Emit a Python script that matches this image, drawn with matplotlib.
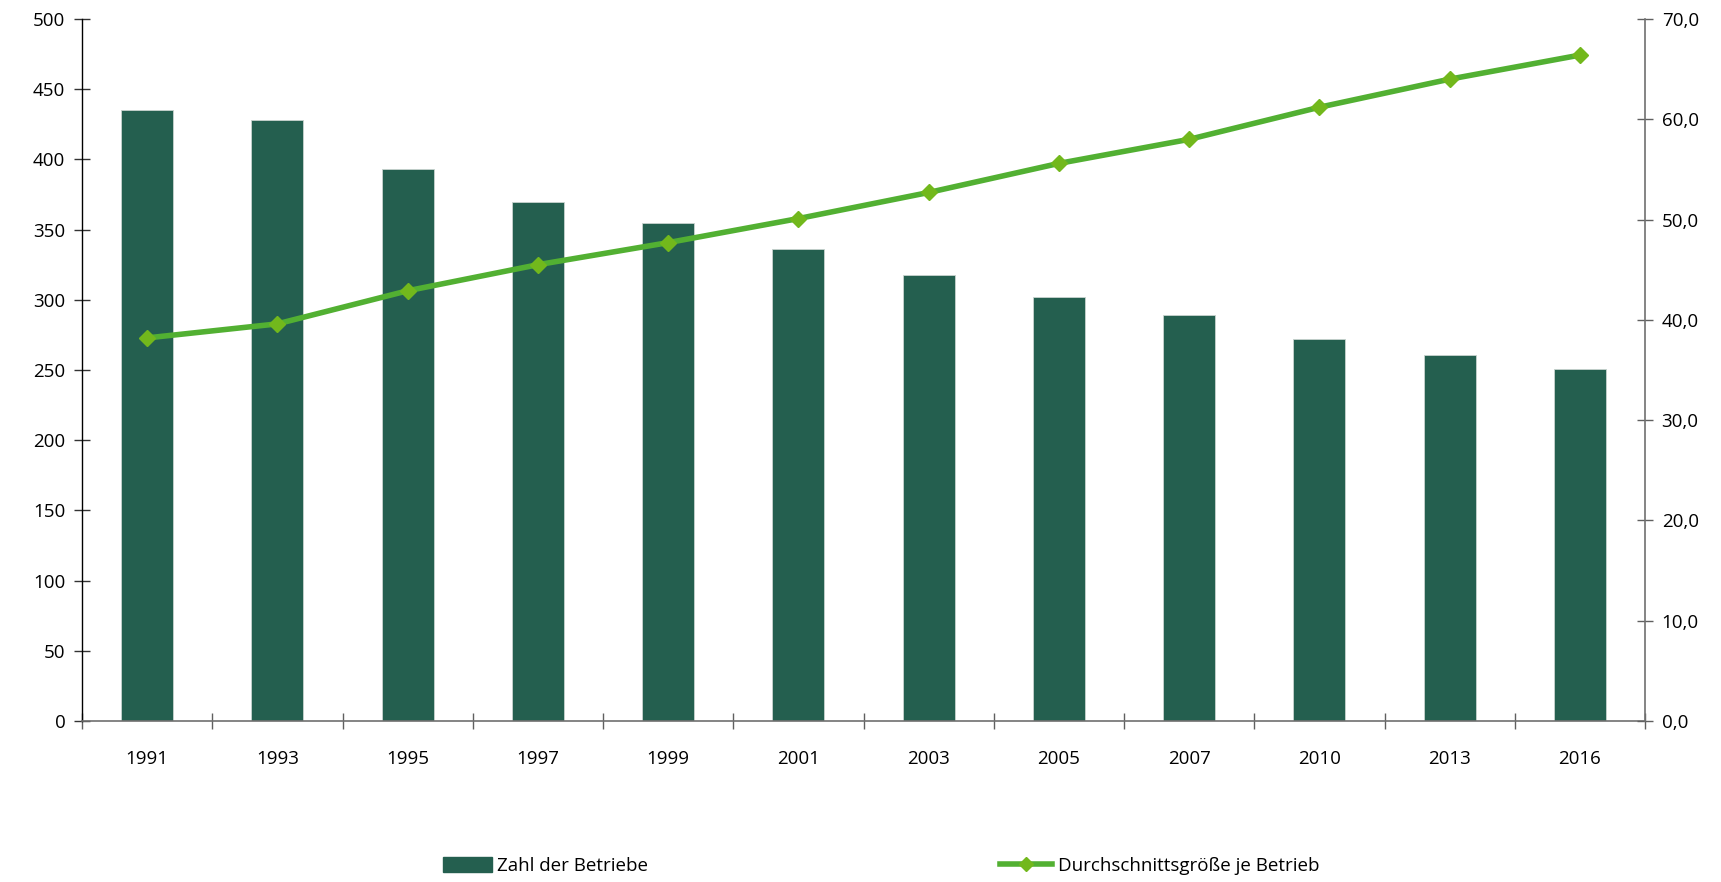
import matplotlib
matplotlib.use("Agg")
import matplotlib.pyplot as plt
from matplotlib.patches import Patch
from matplotlib.lines import Line2D
from matplotlib.ticker import FuncFormatter, FixedLocator

plt.rcParams['font.family'] = ['Open Sans', 'DejaVu Sans']

years = ['1991', '1993', '1995', '1997', '1999', '2001', '2003', '2005', '2007', '2010', '2013', '2016']
betriebe = [435, 428, 393, 370, 355, 336, 318, 302, 289, 272, 261, 251]
durchschnitt = [38.2, 39.6, 42.9, 45.5, 47.7, 50.1, 52.7, 55.6, 58.0, 61.2, 64.0, 66.4]
label_bars = 'Zahl der Betriebe'
label_line = 'Durchschnittsgröße je Betrieb'

bar_color = '#245f4f'
line_color = '#52b032'
marker_color = '#72b81c'
fs = 13.5

fig = plt.figure(figsize=(17.21, 8.82), dpi=100)
ax = fig.add_axes([82/1721, 1 - 721/882, (1645-82)/1721, (721-19)/882])
ax2 = ax.twinx()

x = list(range(len(years)))
ax.bar(x, betriebe, width=0.4, color=bar_color, edgecolor='#c8d4cf', linewidth=0.6, zorder=2)
ax2.plot(x, durchschnitt, color=line_color, linewidth=4, marker='D', markersize=8,
         markerfacecolor=marker_color, markeredgecolor=marker_color, zorder=3)

ax.set_xlim(-0.5, len(years) - 0.5)
ax.set_ylim(0, 500)
ax2.set_ylim(0, 70)

ax.set_yticks(range(0, 501, 50))
ax2.set_yticks(range(0, 71, 10))
ax2.yaxis.set_major_formatter(FuncFormatter(lambda v, p: f"{v:.1f}".replace('.', ',')))

# x ticks at category boundaries, labels at centers
ax.xaxis.set_major_locator(FixedLocator([i - 0.5 for i in range(len(years) + 1)]))
ax.xaxis.set_major_formatter(FuncFormatter(lambda v, p: ''))
ax.xaxis.set_minor_locator(FixedLocator(x))
ax.set_xticklabels(years, minor=True)
ax.tick_params(axis='x', which='major', direction='inout', length=12, width=1, color='#606060')
ax.tick_params(axis='x', which='minor', length=0, pad=21, labelsize=fs, labelcolor='black')

ax.tick_params(axis='y', direction='inout', length=12, width=1, color='#333333', labelsize=fs, pad=6)
ax2.tick_params(axis='y', direction='inout', length=12, width=1, color='#606060', labelsize=fs, pad=6)

for a in (ax, ax2):
    a.spines['top'].set_visible(False)
ax.spines['right'].set_visible(False)
ax.spines['left'].set_color('black')
ax.spines['bottom'].set_color('#707070')
ax2.spines['left'].set_visible(False)
ax2.spines['bottom'].set_visible(False)
ax2.spines['right'].set_color('#707070')
ax.spines['left'].set_linewidth(1)
ax.spines['bottom'].set_linewidth(1.2)
ax2.spines['right'].set_linewidth(1.2)

h1 = Patch(facecolor=bar_color, edgecolor=bar_color)
h2 = Line2D([0], [0], color=line_color, linewidth=4, marker='D', markersize=7,
            markerfacecolor=marker_color, markeredgecolor=marker_color)
common = dict(frameon=False, fontsize=fs, borderpad=0, borderaxespad=0,
              handletextpad=0.3, loc='center left')
leg1 = fig.legend([h1], [label_bars], handlelength=2.6, handleheight=0.9,
                  bbox_to_anchor=(443/1721, 1 - 866/882), **common)
leg2 = fig.legend([h2], [label_line], handlelength=2.8,
                  bbox_to_anchor=(1000/1721, 1 - 866/882), **common)

fig.savefig('out.png', dpi=100)
